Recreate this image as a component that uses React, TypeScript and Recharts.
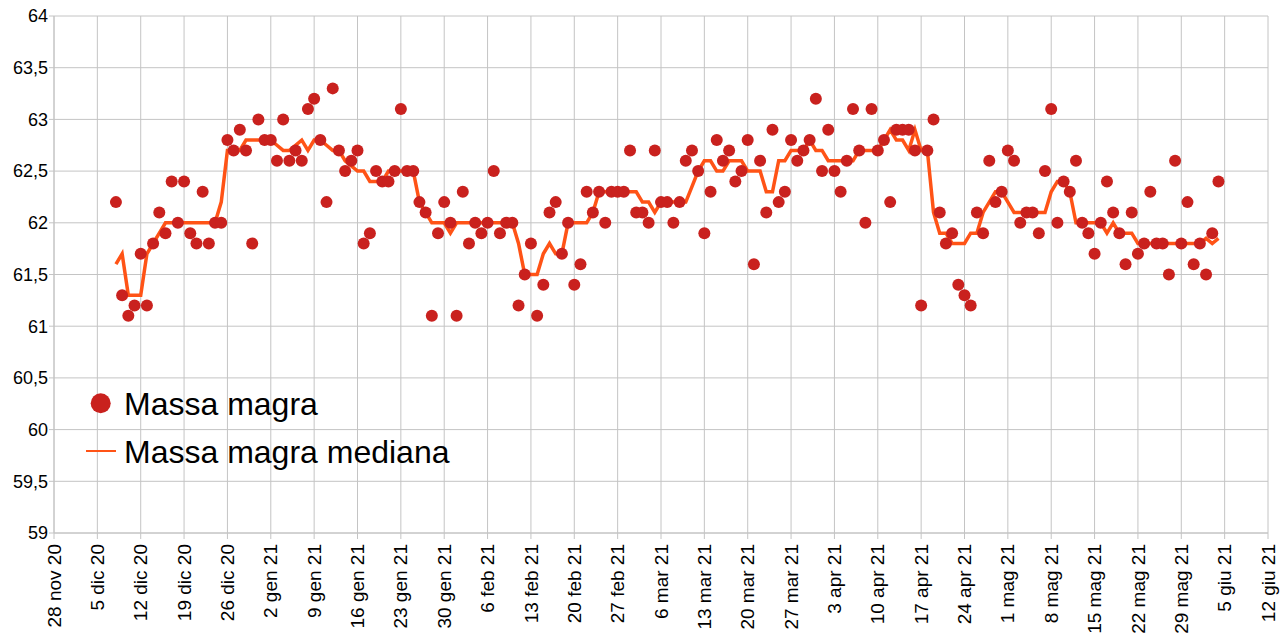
import { ComposedChart, Line, Scatter, XAxis, YAxis, CartesianGrid } from "recharts";

// giorni contati dal 28 nov 20 (giorno 0)
const firstDay = 10;

const massaMagra = [
  62.2, 61.3, 61.1, 61.2, 61.7, 61.2, 61.8, 62.1, 61.9, 62.4,
  62.0, 62.4, 61.9, 61.8, 62.3, 61.8, 62.0, 62.0, 62.8, 62.7,
  62.9, 62.7, 61.8, 63.0, 62.8, 62.8, 62.6, 63.0, 62.6, 62.7,
  62.6, 63.1, 63.2, 62.8, 62.2, 63.3, 62.7, 62.5, 62.6, 62.7,
  61.8, 61.9, 62.5, 62.4, 62.4, 62.5, 63.1, 62.5, 62.5, 62.2,
  62.1, 61.1, 61.9, 62.2, 62.0, 61.1, 62.3, 61.8, 62.0, 61.9,
  62.0, 62.5, 61.9, 62.0, 62.0, 61.2, 61.5, 61.8, 61.1, 61.4,
  62.1, 62.2, 61.7, 62.0, 61.4, 61.6, 62.3, 62.1, 62.3, 62.0,
  62.3, 62.3, 62.3, 62.7, 62.1, 62.1, 62.0, 62.7, 62.2, 62.2,
  62.0, 62.2, 62.6, 62.7, 62.5, 61.9, 62.3, 62.8, 62.6, 62.7,
  62.4, 62.5, 62.8, 61.6, 62.6, 62.1, 62.9, 62.2, 62.3, 62.8,
  62.6, 62.7, 62.8, 63.2, 62.5, 62.9, 62.5, 62.3, 62.6, 63.1,
  62.7, 62.0, 63.1, 62.7, 62.8, 62.2, 62.9, 62.9, 62.9, 62.7,
  61.2, 62.7, 63.0, 62.1, 61.8, 61.9, 61.4, 61.3, 61.2, 62.1,
  61.9, 62.6, 62.2, 62.3, 62.7, 62.6, 62.0, 62.1, 62.1, 61.9,
  62.5, 63.1, 62.0, 62.4, 62.3, 62.6, 62.0, 61.9, 61.7, 62.0,
  62.4, 62.1, 61.9, 61.6, 62.1, 61.7, 61.8, 62.3, 61.8, 61.8,
  61.5, 62.6, 61.8, 62.2, 61.6, 61.8, 61.5, 61.9, 62.4,
];

const massaMagraMediana = [
  61.6, 61.7, 61.3, 61.3, 61.3, 61.7, 61.8, 61.9, 62.0, 62.0,
  62.0, 62.0, 62.0, 62.0, 62.0, 62.0, 62.0, 62.2, 62.7, 62.7,
  62.7, 62.8, 62.8, 62.8, 62.8, 62.8, 62.75, 62.7, 62.7, 62.75,
  62.8, 62.7, 62.8, 62.8, 62.75, 62.7, 62.7, 62.6, 62.55, 62.5,
  62.5, 62.4, 62.4, 62.4, 62.5, 62.5, 62.5, 62.5, 62.5, 62.2,
  62.1, 62.0, 62.0, 62.0, 61.9, 62.0, 62.0, 62.0, 62.0, 62.0,
  62.0, 62.0, 62.0, 62.0, 62.0, 61.8, 61.5, 61.5, 61.5, 61.7,
  61.8, 61.7, 61.7, 62.0, 62.0, 62.0, 62.0, 62.1, 62.3, 62.3,
  62.3, 62.3, 62.3, 62.3, 62.3, 62.2, 62.2, 62.1, 62.2, 62.2,
  62.2, 62.2, 62.2, 62.35, 62.5, 62.6, 62.6, 62.5, 62.5, 62.6,
  62.6, 62.6, 62.5, 62.5, 62.5, 62.3, 62.3, 62.6, 62.6, 62.7,
  62.7, 62.7, 62.8, 62.7, 62.7, 62.6, 62.6, 62.6, 62.6, 62.6,
  62.7, 62.7, 62.7, 62.7, 62.8, 62.9, 62.8, 62.8, 62.7, 62.9,
  62.7, 62.7, 62.1, 61.9, 61.9, 61.8, 61.8, 61.8, 61.9, 61.9,
  62.1, 62.2, 62.3, 62.3, 62.2, 62.1, 62.1, 62.1, 62.1, 62.1,
  62.1, 62.3, 62.4, 62.4, 62.3, 62.0, 62.0, 62.0, 62.0, 62.0,
  61.9, 62.0, 61.9, 61.9, 61.9, 61.8, 61.8, 61.8, 61.8, 61.8,
  61.8, 61.8, 61.8, 61.8, 61.8, 61.8, 61.85, 61.8, 61.85,
];

const xTicks = [0, 7, 14, 21, 28, 35, 42, 49, 56, 63, 70, 77, 84, 91, 98, 105, 112, 119, 126, 133, 140, 147, 154, 161, 168, 175, 182, 189, 196];
const xTickLabels = [
  "28 nov 20", "5 dic 20", "12 dic 20", "19 dic 20", "26 dic 20", "2 gen 21", "9 gen 21",
  "16 gen 21", "23 gen 21", "30 gen 21", "6 feb 21", "13 feb 21", "20 feb 21", "27 feb 21",
  "6 mar 21", "13 mar 21", "20 mar 21", "27 mar 21", "3 apr 21", "10 apr 21", "17 apr 21",
  "24 apr 21", "1 mag 21", "8 mag 21", "15 mag 21", "22 mag 21", "29 mag 21", "5 giu 21", "12 giu 21",
];
const yTicks = [59, 59.5, 60, 60.5, 61, 61.5, 62, 62.5, 63, 63.5, 64];

const data = massaMagra.map((v, i) => ({
  day: firstDay + i,
  massa: v,
  mediana: massaMagraMediana[i],
}));

const FONT = "'Liberation Sans', Arial, sans-serif";
const GRID = "#c4c4c4";
const DOT = "#c9211e";
const LINE = "#ff5316";

const XTick = ({ x, y, payload }: any) => {
  const label = xTickLabels[xTicks.indexOf(payload.value)];
  return (
    <text
      x={x}
      y={y + 3}
      transform={`rotate(-90, ${x}, ${y + 3})`}
      textAnchor="end"
      dy="0.35em"
      fontSize={19}
      fontFamily={FONT}
      fill="#000"
    >
      {label}
    </text>
  );
};

// legenda disegnata sopra il grafico
const LegendBox = () => (
  <svg
    width={420}
    height={100}
    style={{ position: "absolute", left: 80, top: 380, display: "block", pointerEvents: "none" }}
  >
    <circle cx={20.7} cy={23.3} r={10} fill={DOT} />
    <text x={44} y={35} fontSize={32} fontFamily={FONT} fill="#000">
      Massa magra
    </text>
    <line x1={6} y1={71} x2={36} y2={71} stroke={LINE} strokeWidth={2} />
    <text x={44} y={82.7} fontSize={32} fontFamily={FONT} fill="#000">
      Massa magra mediana
    </text>
  </svg>
);

export default function App() {
  return (
    <div style={{ position: "relative", width: 1285, height: 641, background: "#fff" }}>
      <style>{"body{margin:0}"}</style>
      <ComposedChart width={1285} height={641} data={data} margin={{ top: 16, right: 17, left: 0, bottom: 0 }}>
        <CartesianGrid stroke={GRID} strokeWidth={1} />
        <XAxis
          dataKey="day"
          type="number"
          domain={[0, 196]}
          ticks={xTicks}
          interval={0}
          height={108}
          tick={<XTick />}
          tickLine={{ stroke: GRID }}
          tickSize={6}
          axisLine={{ stroke: GRID }}
        />
        <YAxis
          type="number"
          domain={[59, 64]}
          ticks={yTicks}
          interval={0}
          width={54}
          tickFormatter={(v: number) => String(v).replace(".", ",")}
          tick={{ fontSize: 18, fontFamily: FONT, fill: "#000" }}
          tickLine={{ stroke: GRID }}
          tickSize={5}
          tickMargin={1}
          axisLine={{ stroke: GRID }}
        />
        <Line
          dataKey="mediana"
          name="Massa magra mediana"
          type="linear"
          stroke={LINE}
          strokeWidth={3.5}
          dot={false}
          isAnimationActive={false}
        />
        <Scatter
          dataKey="massa"
          name="Massa magra"
          fill={DOT}
          isAnimationActive={false}
          shape={(p: any) => <circle cx={p.cx} cy={p.cy} r={6} fill={DOT} />}
        />
      </ComposedChart>
      <LegendBox />
    </div>
  );
}
